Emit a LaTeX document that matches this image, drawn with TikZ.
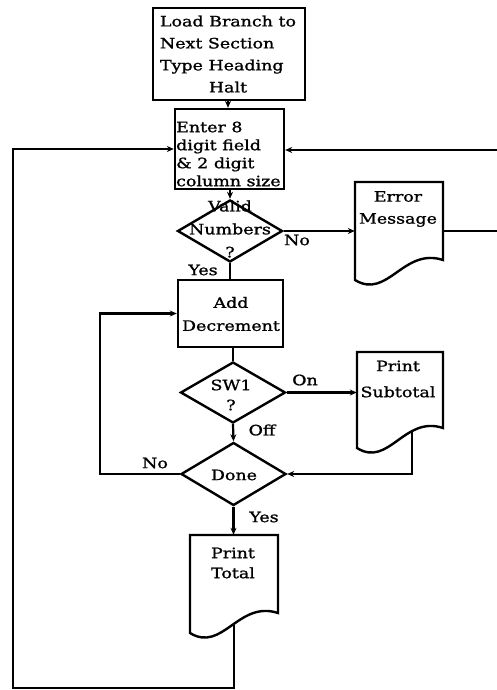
\documentclass[tikz,border=0pt]{standalone}
\usepackage{fontspec}
\setmainfont{DejaVu Serif}[FakeStretch=1.22,FakeBold=1.2]
\usetikzlibrary{shapes.geometric,arrows.meta}
\newcommand\docoutline[4]{% left, top, right, bottom-left y
  \draw[boxline] (#1,#2) -- (#3,#2) -- (#3,{#4-20})
    .. controls ({#1+0.55*(#3-#1)},{#4-33}) and ({#1+0.37*(#3-#1)},{#4+20}) .. (#1,#4) -- cycle;}
\begin{document}
\begin{tikzpicture}[x=1pt,y=-1pt,
  ln/.style={line width=2.2pt},
  arr/.style={ln,-{Stealth[length=7pt,width=6pt]}},
  boxline/.style={line width=2.4pt,line join=miter},
  box/.style={draw,boxline,inner sep=0pt},
  anch/.style={inner sep=0pt},
  dia/.style={draw,diamond,boxline,inner sep=0pt,minimum width=105pt,minimum height=62pt},
  txt/.style={inner sep=0pt,align=center,font=\fontsize{14.3}{#1}\selectfont},
  lbl/.style={inner sep=0pt,font=\fontsize{14.3}{17}\selectfont}]
\useasboundingbox (0,0) rectangle (497,690);

% boxes
\node[box,minimum width=152pt,minimum height=92pt] (load) at (229,54) {};
\node[txt=22] (loadt) at (228,55) {\begin{tabular}{@{}l@{}}Load Branch to\\Next Section\\Type Heading\\\multicolumn{1}{@{}c@{}}{Halt}\end{tabular}};

\node[box,minimum width=109pt,minimum height=80pt] (enter) at (229.5,149) {};
\node[txt=18,align=left,anchor=west] (entert) at (176,154) {Enter 8\\digit field\\\& 2 digit\\column size};

\node[dia] (valid) at (230,231) {};
\node[txt=23] (validt) at (230,229) {Valid\\Numbers\\?};

\node[box,minimum width=105pt,minimum height=67pt] (add) at (230.5,313.5) {};
\node[txt=23] (addt) at (231,314) {Add\\Decrement};

\node[dia,minimum height=61pt] (sw1) at (233,392.5) {};
\node[txt=20] (sw1t) at (231,395) {SW1\\?};

\node[dia,minimum height=63pt] (done) at (233.5,474) {};
\node[txt=20] (donet) at (234,475) {Done};

% documents
\docoutline{355}{182}{443}{280}
\node[anch,minimum width=88pt,minimum height=98pt] (err) at (399,231) {};
\node[txt=22] (errt) at (398,209) {Error\\Message};

\docoutline{357}{352}{443}{448}
\node[anch,minimum width=86pt,minimum height=96pt] (psub) at (400,400) {};
\node[txt=26] (psubt) at (398,379) {Print\\Subtotal};

\docoutline{190}{535}{278}{633}
\node[anch,minimum width=88pt,minimum height=98pt] (ptot) at (234,584) {};
\node[txt=20] (ptott) at (233,563) {Print\\Total};

% helper coordinates
\coordinate (offr) at (520,150);
\coordinate (subw) at (412,432);
\coordinate (loopL) at (100,474);
\coordinate (totw) at (234,625);
\coordinate (botL) at (13,688);

% connectors
\draw[arr] (load.south -| 228,0) -- (228,0 |- enter.north);
\draw[arr] (enter.south -| valid.north) -- (valid.north);
\draw[arr] (valid.east) -- (valid.east -| err.west);
\draw[ln] (valid.south) -- (valid.south |- add.north);
\draw[ln] (err.east |- valid.east) -| (offr);
\draw[arr] (offr) -- (offr -| enter.east);
\draw[ln] (add.south -| sw1.north) -- (sw1.north);
\draw[arr] (sw1.east) -- (sw1.east -| psub.west);
\draw[arr] (sw1.south) -- (done.north);
\draw[arr] (subw) |- (done.east);
\draw[arr] (done.west) -- (loopL) |- (add.west);
\draw[arr] (done.south) -- (done.south |- ptot.north);
\draw[arr] (totw) |- (botL) |- (enter.west);

% labels
\node[lbl] (lno1) at (297,240) {No};
\node[lbl] (lyes1) at (203,270) {Yes};
\node[lbl] (lon) at (305,380) {On};
\node[lbl] (loff) at (262,430) {Off};
\node[lbl] (lno2) at (155,463) {No};
\node[lbl] (lyes2) at (264,517) {Yes};
\end{tikzpicture}
\end{document}
